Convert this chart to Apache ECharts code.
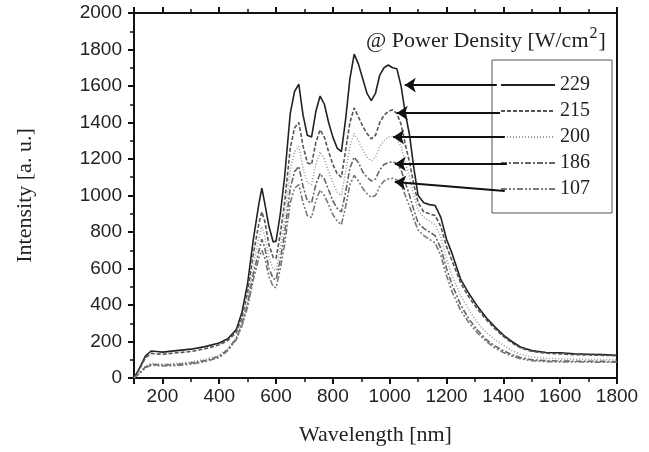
<!DOCTYPE html>
<html>
<head>
<meta charset="utf-8">
<script src="https://cdn.jsdelivr.net/npm/echarts@6/dist/echarts.min.js"></script>
<style>
  html, body { margin: 0; padding: 0; background: #fff; }
  #chart { width: 649px; height: 452px; }
</style>
</head>
<body>
<div id="chart"></div>
<script>
// wavelength grid [nm]
const wavelength = [
  100, 120, 140, 160, 180, 200,
  250, 300, 350, 400, 430, 460, 480, 500,
  520, 540, 550, 560, 575, 590, 600, 615,
  630, 650, 665, 680, 695, 710, 725, 740,
  755, 770, 785, 800, 815, 830, 845, 860,
  875, 890, 905, 920, 935, 950, 965, 980,
  995, 1010, 1025, 1040, 1055, 1070, 1085, 1100,
  1120, 1140, 1160, 1180, 1200, 1220, 1250, 1280,
  1310, 1340, 1370, 1400, 1430, 1460, 1500, 1550,
  1600, 1650, 1700, 1750, 1800
];

// intensity for each power density [W/cm2]
const int229 = [
  0, 55, 120, 148, 145, 142,
  150, 158, 172, 192, 215, 265, 360, 520,
  760, 960, 1040, 960, 830, 745, 750, 900,
  1100, 1450, 1570, 1610, 1440, 1330, 1320, 1460,
  1545, 1500, 1400, 1320, 1260, 1240, 1420, 1640,
  1775, 1720, 1640, 1560, 1520, 1560, 1660, 1700,
  1715, 1700, 1695, 1600, 1450, 1330, 1150, 1000,
  960, 950, 945, 880, 760, 680, 540, 460,
  390, 330, 280, 235, 200, 170, 150, 140,
  138, 132, 130, 128, 125
];
const int215 = [
  0, 50, 110, 135, 132, 130,
  138, 145, 160, 182, 205, 250, 330, 470,
  680, 850, 910, 860, 730, 660, 655, 790,
  960, 1260, 1370, 1400, 1270, 1180, 1170, 1290,
  1360, 1320, 1240, 1170, 1120, 1100, 1250, 1400,
  1480, 1430, 1380, 1340, 1310, 1330, 1400, 1440,
  1460, 1470, 1450, 1390, 1280, 1180, 1060, 960,
  910, 900, 890, 830, 720, 640, 520, 440,
  375, 320, 270, 228, 192, 165, 146, 136,
  132, 128, 126, 124, 122
];
const int200 = [
  0, 30, 65, 80, 78, 76,
  80, 88, 102, 125, 160, 225, 310, 430,
  620, 770, 830, 780, 660, 595, 590, 710,
  870, 1140, 1240, 1270, 1150, 1070, 1060, 1170,
  1240, 1200, 1130, 1070, 1020, 1000, 1130, 1270,
  1340, 1300, 1250, 1210, 1190, 1210, 1270, 1300,
  1320, 1325, 1310, 1270, 1180, 1100, 1000, 920,
  880, 860, 840, 770, 650, 560, 450, 370,
  300, 250, 210, 180, 150, 130, 115, 108,
  105, 103, 102, 101, 100
];
const int186 = [
  0, 28, 60, 75, 73, 71,
  74, 82, 95, 118, 155, 215, 295, 405,
  570, 700, 760, 715, 600, 545, 540, 650,
  790, 1040, 1130, 1160, 1050, 970, 960, 1060,
  1120, 1090, 1030, 970, 930, 910, 1020, 1150,
  1210, 1180, 1130, 1100, 1080, 1090, 1140, 1170,
  1180, 1185, 1175, 1140, 1070, 1000, 920, 850,
  820, 800, 780, 710, 600, 510, 400, 320,
  260, 210, 175, 150, 128, 112, 100, 95,
  93, 92, 92, 91, 90
];
const int107 = [
  0, 25, 55, 70, 68, 66,
  68, 76, 90, 112, 150, 210, 285, 390,
  540, 660, 700, 660, 555, 500, 495, 600,
  730, 960, 1040, 1060, 960, 890, 880, 970,
  1030, 1000, 950, 895, 860, 840, 940, 1060,
  1110, 1080, 1040, 1010, 990, 1000, 1050, 1080,
  1090, 1095, 1085, 1060, 1000, 940, 870, 810,
  780, 760, 740, 670, 560, 470, 370, 300,
  245, 200, 165, 140, 120, 105, 95, 90,
  88, 88, 87, 86, 86
];

const seriesNames = ['229', '215', '200', '186', '107'];
const seriesValues = [int229, int215, int200, int186, int107];

// arrows from the legend to each curve: [start nm, start y, tip nm, tip y]
const arrows = [
  [1377, 1605, 1053, 1605],
  [1388, 1452, 1025, 1452],
  [1405, 1320, 1012, 1320],
  [1412, 1173, 1018, 1173],
  [1405, 1025, 1018, 1074]
];

const lineLooks = [
  { color: '#222', type: 'solid' },
  { color: '#555', type: [4, 2] },
  { color: '#999', type: [1, 2] },
  { color: '#666', type: [6, 2, 2, 2] },
  { color: '#777', type: [6, 2, 2, 2, 2, 2] }
];

const chart = echarts.init(document.getElementById('chart'));

const axisColor = '#111';
const tickFont = { fontFamily: 'Liberation Sans', fontSize: 19, color: '#222', formatter: v => String(v) };
const serif = 'Liberation Serif';

const series = seriesNames.map((name, k) => ({
  name: name,
  type: 'line',
  symbol: 'none',
  animation: false,
  data: wavelength.map((w, i) => [w, seriesValues[k][i]]),
  lineStyle: { color: lineLooks[k].color, width: 1.6, type: lineLooks[k].type },
  itemStyle: { color: lineLooks[k].color },
  markLine: {
    silent: true,
    animation: false,
    symbol: ['none', 'arrow'],
    symbolSize: 11,
    label: { show: false },
    lineStyle: { color: '#111', width: 2, type: 'solid' },
    data: [[
      { coord: [arrows[k][0], arrows[k][1]] },
      { coord: [arrows[k][2], arrows[k][3]] }
    ]]
  }
}));

const option = {
  animation: false,
  title: {
    text: '{a|@ Power Density [W/cm}{s|2}{a|]}',
    left: 361,
    top: 21,
    textStyle: {
      fontWeight: 'normal',
      rich: {
        a: { fontFamily: serif, fontSize: 22, fontWeight: 'normal', color: '#222' },
        s: { fontFamily: serif, fontSize: 16, fontWeight: 'normal', color: '#222', verticalAlign: 'top', padding: [0, 1, 15, 1] }
      }
    }
  },
  legend: {
    data: seriesNames,
    orient: 'vertical',
    left: 492,
    top: 60,
    itemWidth: 54,
    itemHeight: 12,
    itemGap: 6,
    padding: [15, 22, 14, 8],
    borderColor: '#555',
    borderWidth: 1,
    selectedMode: false,
    itemStyle: { opacity: 0 },
    textStyle: { fontFamily: serif, fontSize: 20, color: '#222' }
  },
  grid: { left: 134, right: 32, top: 13, bottom: 74 },
  xAxis: [
    {
      type: 'value', position: 'bottom', min: 100, max: 1800, splitNumber: 8,
      axisLine: { show: true, onZero: false, lineStyle: { color: axisColor, width: 2 } },
      axisTick: { show: true, length: 6, lineStyle: { color: axisColor, width: 2 } },
      minorTick: { show: true, splitNumber: 2, length: 4, lineStyle: { color: axisColor, width: 1.5 } },
      splitLine: { show: false },
      axisLabel: Object.assign({ showMinLabel: false, margin: 9 }, tickFont),
      name: 'Wavelength [nm]',
      nameLocation: 'middle',
      nameGap: 46,
      nameTextStyle: { fontFamily: serif, fontSize: 22, color: '#222' }
    },
    {
      type: 'value', position: 'top', min: 100, max: 1800, splitNumber: 8,
      axisLine: { show: true, onZero: false, lineStyle: { color: axisColor, width: 2 } },
      axisTick: { show: true, length: 6, lineStyle: { color: axisColor, width: 2 } },
      minorTick: { show: true, splitNumber: 2, length: 4, lineStyle: { color: axisColor, width: 1.5 } },
      splitLine: { show: false },
      axisLabel: { show: false }
    }
  ],
  yAxis: [
    {
      type: 'value', position: 'left', min: 0, max: 2000, interval: 200,
      axisLine: { show: true, onZero: false, lineStyle: { color: axisColor, width: 2 } },
      axisTick: { show: true, length: 6, lineStyle: { color: axisColor, width: 2 } },
      minorTick: { show: true, splitNumber: 2, length: 4, lineStyle: { color: axisColor, width: 1.5 } },
      splitLine: { show: false },
      axisLabel: Object.assign({ margin: 12 }, tickFont),
      name: 'Intensity [a. u.]',
      nameLocation: 'middle',
      nameGap: 98,
      nameRotate: 90,
      nameTextStyle: { fontFamily: serif, fontSize: 22, color: '#222' }
    },
    {
      type: 'value', position: 'right', min: 0, max: 2000, interval: 200,
      axisLine: { show: true, onZero: false, lineStyle: { color: axisColor, width: 2 } },
      axisTick: { show: false },
      splitLine: { show: false },
      axisLabel: { show: false }
    }
  ],
  series: series
};

chart.setOption(option);
</script>
</body>
</html>
